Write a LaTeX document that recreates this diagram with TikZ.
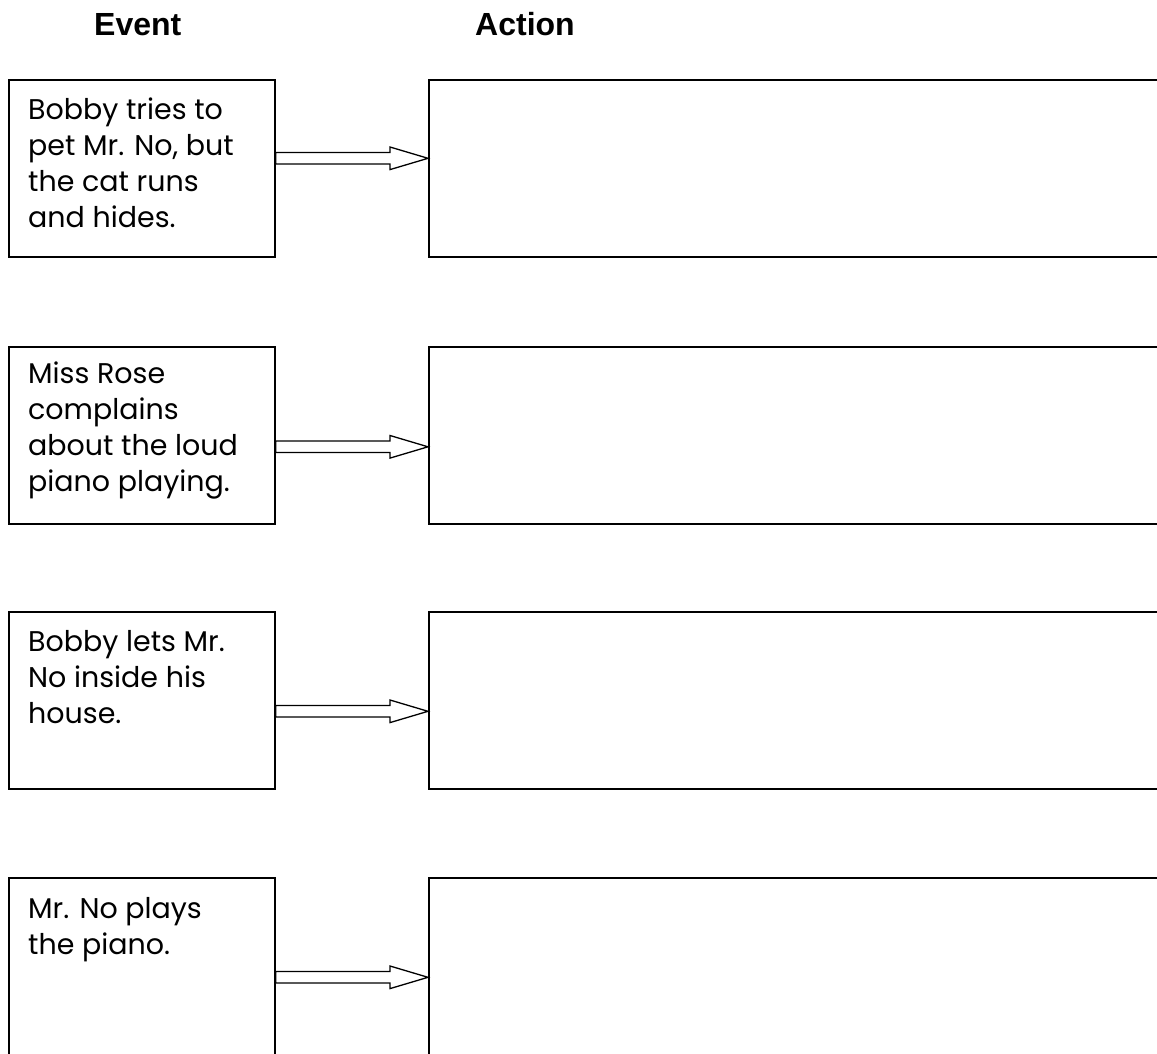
\documentclass[tikz,border=0pt]{standalone}
\usepackage{fontspec}
\newfontfamily\headfont{Liberation Sans}
\newfontfamily\bodyfont{Poppins}
\usetikzlibrary{positioning,calc}

\begin{document}
\begin{tikzpicture}[
  x=1pt, y=-1pt,
  head/.style={anchor=base west, inner sep=0pt, font=\headfont\bfseries\fontsize{32}{38}\selectfont},
  evbox/.style={draw, line width=1.6pt, anchor=north west, minimum width=266pt, minimum height=177pt, inner sep=0pt},
  actbox/.style={draw, line width=1.6pt, anchor=north west, minimum width=800pt, minimum height=177pt, inner sep=0pt},
  evtext/.style={anchor=base west, inner sep=0pt, align=left, font=\bodyfont\fontsize{28.5}{36}\selectfont},
  fat/.style={draw, line width=1.3pt, fill=white,
    to path={let \p1=(\tikztostart), \p2=(\tikztotarget) in
      (\x1,\y1+5.75pt) -- (\x2-38pt,\y1+5.75pt) -- (\x2-38pt,\y1+11.3pt) -- (\x2,\y1)
      -- (\x2-38pt,\y1-11.3pt) -- (\x2-38pt,\y1-5.75pt) -- (\x1,\y1-5.75pt) -- cycle}}
]
  \path[use as bounding box, clip] (0,0) rectangle (1157,1053);

  % Headers
  \node[head] (event) at (94,35) {Event};
  \node[head] (action) at (475,35) {Action};

  % Event boxes
  \node[evbox] (ev1) at (8,79) {};
  \node[evbox] (ev2) at (8,346) {};
  \node[evbox] (ev3) at (8,611) {};
  \node[evbox] (ev4) at (8,877) {};

  % (base is the last line of each text)
  \node[evtext] (ev1text) at ([xshift=20pt,yshift=-148pt]ev1.north west) {Bobby tries to\\pet Mr. No, but\\the cat runs\\and hides.};
  \node[evtext] (ev2text) at ([xshift=20pt,yshift=-145pt]ev2.north west) {Miss Rose\\complains\\about the loud\\piano playing.};
  \node[evtext] (ev3text) at ([xshift=20pt,yshift=-112pt]ev3.north west) {Bobby lets Mr.\\No inside his\\house.};
  \node[evtext] (ev4text) at ([xshift=20pt,yshift=-77pt]ev4.north west) {Mr. No plays\\the piano.};

  % Action boxes
  \node[actbox] (act1) at (428,79) {};
  \node[actbox] (act2) at (428,346) {};
  \node[actbox] (act3) at (428,611) {};
  \node[actbox] (act4) at (428,877) {};

  % Arrows
  \draw[fat] ([yshift=10pt]ev1.east) to ([yshift=10pt]act1.west);
  \draw[fat] ([yshift=-11.5pt]ev2.east) to ([yshift=-11.5pt]act2.west);
  \draw[fat] ([yshift=-11pt]ev3.east) to ([yshift=-11pt]act3.west);
  \draw[fat] ([yshift=-11pt]ev4.east) to ([yshift=-11pt]act4.west);
\end{tikzpicture}
\end{document}
